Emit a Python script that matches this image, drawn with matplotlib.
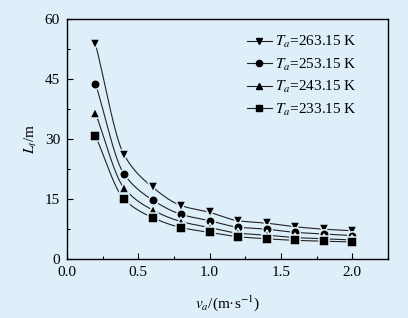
import matplotlib.pyplot as plt
import numpy as np
from matplotlib.ticker import MultipleLocator

plt.rcParams['font.family'] = ['Liberation Serif', 'DejaVu Serif']
plt.rcParams['mathtext.fontset'] = 'stix'

BG = '#dfeffa'

va = [0.2, 0.4, 0.6, 0.8, 1.0, 1.2, 1.4, 1.6, 1.8, 2.0]
L_263 = [53.8, 26.1, 18.0, 13.4, 11.7, 9.6, 9.0, 8.1, 7.5, 7.1]
L_253 = [43.9, 21.3, 14.8, 11.2, 9.6, 8.0, 7.5, 6.7, 6.3, 5.9]
L_243 = [36.5, 17.8, 12.3, 9.4, 7.9, 6.5, 6.0, 5.4, 5.1, 4.8]
L_233 = [30.8, 15.0, 10.4, 7.9, 6.7, 5.6, 5.1, 4.7, 4.5, 4.3]
labels = ['263.15', '253.15', '243.15', '233.15']
markers = ['v', 'o', '^', 's']


def smooth(x, y, n=20):
    # monotone cubic (pchip-like) through the points, only for drawing
    x = np.asarray(x, float)
    y = np.asarray(y, float)
    h = np.diff(x)
    s = np.diff(y) / h
    d = np.zeros_like(y)
    for i in range(1, len(x) - 1):
        if s[i - 1] * s[i] > 0:
            w1 = 2 * h[i] + h[i - 1]
            w2 = h[i] + 2 * h[i - 1]
            d[i] = (w1 + w2) / (w1 / s[i - 1] + w2 / s[i])
    d[0] = s[0]
    d[-1] = s[-1]
    xs, ys = [], []
    for i in range(len(x) - 1):
        t = np.linspace(0, 1, n)
        h00 = 2 * t**3 - 3 * t**2 + 1
        h10 = t**3 - 2 * t**2 + t
        h01 = -2 * t**3 + 3 * t**2
        h11 = t**3 - t**2
        xs.append(x[i] + t * h[i])
        ys.append(h00 * y[i] + h10 * h[i] * d[i] + h01 * y[i + 1] + h11 * h[i] * d[i + 1])
    return np.concatenate(xs), np.concatenate(ys)


fig = plt.figure(figsize=(4.08, 3.18), dpi=100, facecolor=BG)
ax = fig.add_axes([0.164, 0.185, 0.787, 0.755], facecolor=BG)

for ys, lab, m in zip([L_263, L_253, L_243, L_233], labels, markers):
    sx, sy = smooth(va, ys)
    ax.plot(sx, sy, color='#222222', lw=0.8, zorder=2)
    ax.plot(va, ys, ls='none', marker=m, ms=6.8, color='black',
            mec=BG, mew=1.1, zorder=3)
    ax.plot([], [], color='#222222', lw=0.8, marker=m, ms=4.5, mfc='black', mec='black',
            label=r'$T_a$=' + lab + ' K')

ax.set_xlim(0, 2.25)
ax.set_ylim(0, 60)
ax.xaxis.set_major_locator(MultipleLocator(0.5))
ax.xaxis.set_minor_locator(MultipleLocator(0.25))
ax.yaxis.set_major_locator(MultipleLocator(15))
ax.yaxis.set_minor_locator(MultipleLocator(7.5))
ax.tick_params(which='both', direction='in', labelsize=11, width=0.8)
ax.tick_params(which='major', length=4)
ax.tick_params(axis='x', pad=5)
ax.tick_params(axis='y', pad=5)
ax.tick_params(which='minor', length=2.5)
for s in ax.spines.values():
    s.set_linewidth(1.0)

ax.set_xlabel(r'$v_a$/(m·s$^{-1}$)', fontsize=11, labelpad=10)
ax.set_ylabel(r'$L_t$/m', fontsize=11, labelpad=4)

ax.legend(loc='upper right', frameon=False, fontsize=11, handlelength=1.6,
          handletextpad=0.25, labelspacing=0.42, bbox_to_anchor=(0.947, 0.995))

fig.savefig('out.png', dpi=100, facecolor=BG)
